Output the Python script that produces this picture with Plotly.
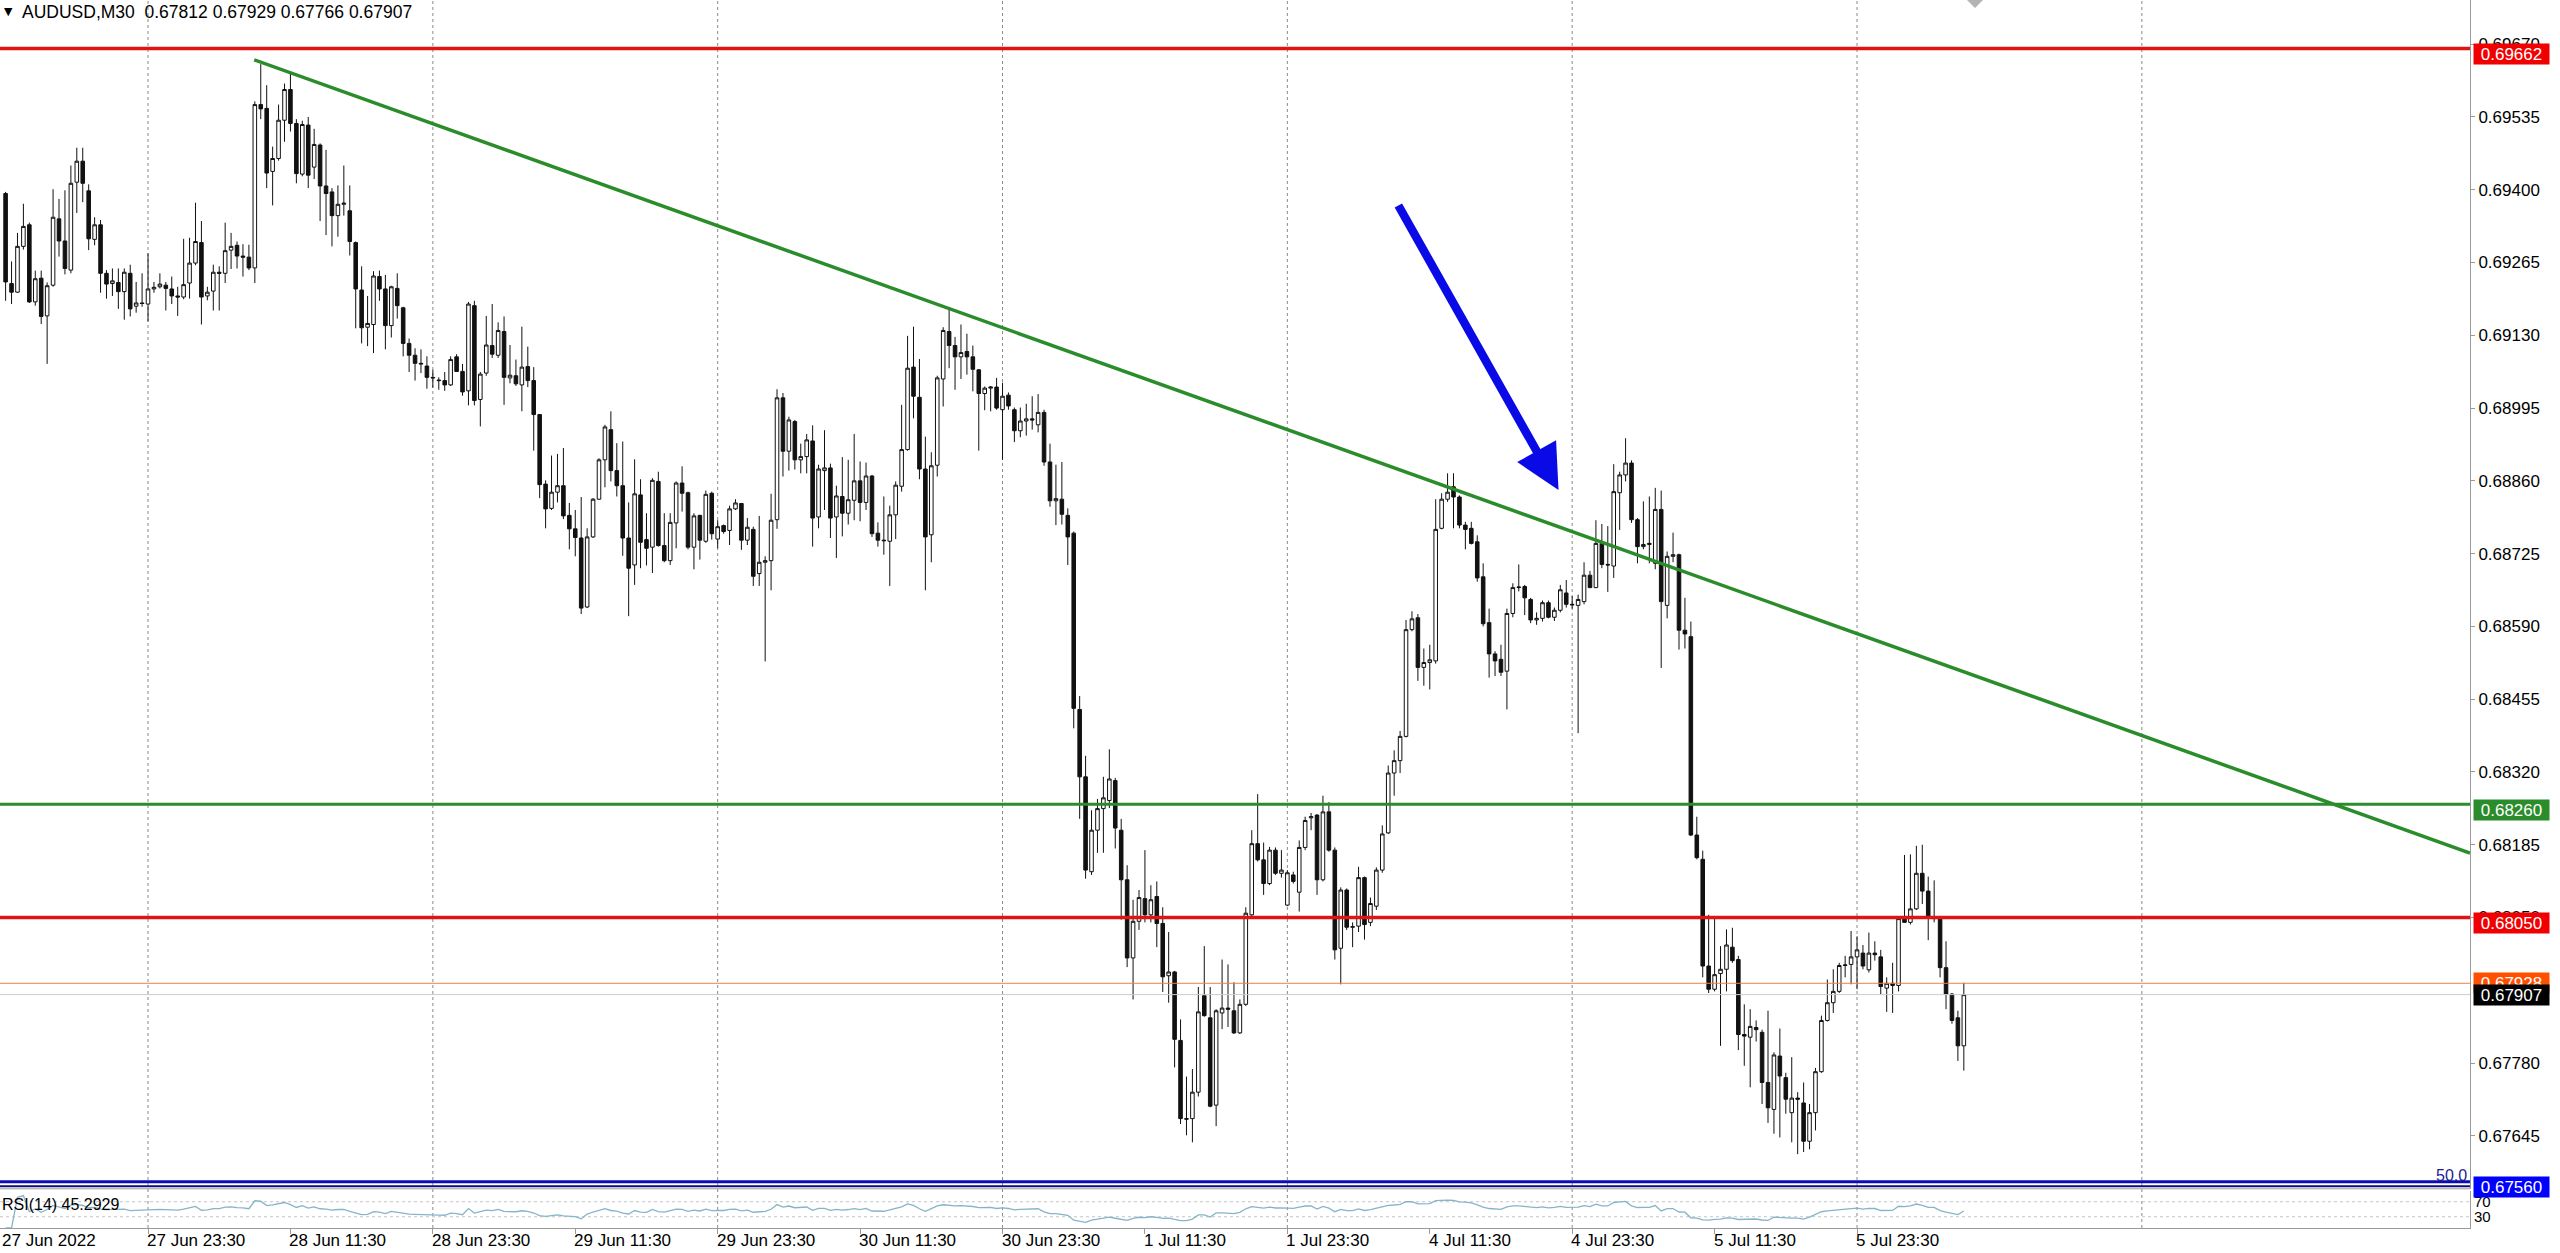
import numpy as np
import plotly.graph_objects as go

# AUDUSD M30 candles, prices in points (1 point = 0.00001)
opens = [
    69393, 69226, 69210, 69295, 69335, 69192, 69236, 69166, 69223, 69346,
    69305, 69251, 69414, 69453, 69398, 69308, 69335, 69245, 69226, 69228,
    69211, 69245, 69184, 69190, 69188, 69216, 69220, 69223, 69216, 69203,
    69201, 69227, 69264, 69302, 69203, 69212, 69247, 69245, 69288, 69297,
    69277, 69275, 69255, 69558, 69551, 69434, 69458, 69529, 69586, 69523,
    69429, 69520, 69442, 69483, 69407, 69396, 69352, 69373, 69361, 69302,
    69214, 69145, 69150, 69239, 69216, 69148, 69217, 69181, 69115, 69093,
    69078, 69073, 69052, 69047, 69046, 69038, 69090, 69063, 69027, 69185,
    69011, 69060, 69111, 69093, 69137, 69051, 69055, 69038, 69072, 69046,
    68983, 68854, 68809, 68839, 68851, 68796, 68771, 68754, 68626, 68756,
    68826, 68899, 68955, 68879, 68851, 68754, 68704, 68834, 68751, 68737,
    68859, 68740, 68712, 68782, 68856, 68838, 68737, 68796, 68748, 68837,
    68752, 68777, 68768, 68808, 68818, 68750, 68770, 68688, 68709, 68712,
    68788, 69014, 68915, 68970, 68899, 68905, 68934, 68793, 68879, 68884,
    68793, 68831, 68800, 68824, 68860, 68820, 68869, 68763, 68750, 68748,
    68797, 68850, 68918, 69071, 69015, 68882, 68760, 68889, 69049, 69137,
    69111, 69090, 69100, 69090, 69066, 69022, 69032, 69034, 68992, 69019,
    68992, 68953, 68971, 68975, 68964, 68987, 68895, 68823, 68826, 68796,
    68763, 68436, 68311, 68135, 68212, 68252, 68267, 68304, 68212, 68120,
    67975, 68043, 68085, 68055, 68089, 68039, 67942, 67949, 67822, 67677,
    67677, 67726, 67905, 67864, 67702, 67873, 67882, 67877, 67836, 67889,
    68055, 68187, 68157, 68113, 68175, 68132, 68073, 68129, 68097, 68180,
    68235, 68240, 68120, 68246, 68175, 67993, 68101, 68032, 68034, 68124,
    68041, 68071, 68138, 68207, 68318, 68341, 68386, 68584, 68606, 68514,
    68523, 68526, 68772, 68826, 68849, 68830, 68778, 68772, 68747, 68682,
    68597, 68539, 68529, 68507, 68614, 68662, 68664, 68640, 68602, 68605,
    68634, 68607, 68620, 68652, 68631, 68629, 68636, 68685, 68662, 68744,
    68705, 68702, 68838, 68871, 68893, 68788, 68738, 68742, 68707, 68807,
    68629, 68720, 68723, 68583, 68571, 68203, 68158, 67960, 67917, 67946,
    67954, 67995, 67972, 67833, 67828, 67846, 67837, 67744, 67694, 67793,
    67753, 67688, 67715, 67706, 67635, 67688, 67764, 67859, 67892, 67913,
    67961, 67963, 67977, 67984, 67953, 67984, 67977, 67919, 67928, 67924,
    68048, 68041, 68066, 68132, 68099, 68050, 68048, 67957, 67908, 67864,
    67812,
]
highs = [
    69396, 69267, 69320, 69374, 69339, 69250, 69250, 69228, 69401, 69383,
    69399, 69445, 69478, 69478, 69410, 69349, 69344, 69251, 69254, 69254,
    69254, 69261, 69229, 69245, 69282, 69229, 69245, 69229, 69239, 69220,
    69309, 69311, 69376, 69342, 69220, 69261, 69258, 69339, 69320, 69304,
    69299, 69298, 69564, 69633, 69594, 69480, 69558, 69597, 69616, 69531,
    69528, 69535, 69513, 69486, 69474, 69403, 69408, 69445, 69408, 69304,
    69258, 69203, 69249, 69250, 69242, 69222, 69245, 69183, 69124, 69106,
    69104, 69091, 69066, 69052, 69062, 69091, 69095, 69077, 69192, 69194,
    69062, 69166, 69188, 69154, 69165, 69112, 69085, 69146, 69109, 69071,
    68984, 68861, 68907, 68910, 68921, 68819, 68806, 68830, 68772, 68828,
    68902, 68964, 68989, 68930, 68933, 68820, 68900, 68863, 68800, 68865,
    68877, 68800, 68800, 68859, 68887, 68840, 68800, 68797, 68842, 68840,
    68787, 68779, 68814, 68826, 68819, 68791, 68775, 68795, 68720, 68836,
    69030, 69023, 68979, 68973, 68929, 68947, 68963, 68890, 68954, 68892,
    68851, 68904, 68899, 68947, 68896, 68894, 68871, 68783, 68831, 68814,
    68859, 69001, 69129, 69146, 69086, 68942, 68913, 69055, 69145, 69180,
    69127, 69150, 69133, 69111, 69067, 69035, 69036, 69051, 69042, 69024,
    68996, 68996, 69003, 69017, 69021, 68992, 68929, 68890, 68895, 68809,
    68766, 68461, 68350, 68249, 68270, 68311, 68362, 68309, 68233, 68147,
    68083, 68101, 68175, 68110, 68117, 68069, 68023, 67951, 67861, 67755,
    67769, 67921, 67997, 67921, 67880, 67972, 67963, 67930, 67898, 68069,
    68212, 68279, 68189, 68181, 68180, 68175, 68138, 68135, 68193, 68237,
    68244, 68242, 68276, 68264, 68180, 68106, 68104, 68041, 68144, 68126,
    68087, 68143, 68221, 68332, 68360, 68396, 68602, 68618, 68613, 68549,
    68556, 68826, 68837, 68874, 68874, 68833, 68784, 68784, 68759, 68707,
    68623, 68544, 68556, 68623, 68670, 68705, 68667, 68643, 68616, 68638,
    68638, 68625, 68667, 68676, 68646, 68649, 68709, 68693, 68787, 68780,
    68776, 68891, 68877, 68939, 68898, 68791, 68822, 68831, 68847, 68842,
    68729, 68764, 68725, 68643, 68599, 68237, 68174, 68055, 68050, 67997,
    68028, 68031, 67979, 67889, 67880, 67859, 67842, 67877, 67800, 67844,
    67762, 67791, 67726, 67744, 67704, 67771, 67868, 67935, 67954, 67966,
    67979, 68025, 68015, 67999, 68022, 68006, 67990, 67939, 67966, 68050,
    68166, 68167, 68183, 68185, 68126, 68119, 68050, 68006, 67910, 67877,
    67929,
]
lows = [
    69194, 69188, 69209, 69289, 69190, 69185, 69151, 69077, 69220, 69276,
    69243, 69245, 69357, 69377, 69288, 69297, 69209, 69198, 69203, 69179,
    69159, 69165, 69172, 69183, 69156, 69209, 69217, 69176, 69188, 69166,
    69197, 69198, 69260, 69150, 69195, 69176, 69176, 69227, 69253, 69254,
    69239, 69251, 69227, 69531, 69403, 69371, 69454, 69489, 69508, 69412,
    69425, 69403, 69420, 69342, 69316, 69295, 69313, 69352, 69278, 69143,
    69115, 69110, 69097, 69194, 69104, 69126, 69161, 69091, 69062, 69046,
    69060, 69031, 69033, 69029, 69027, 69036, 69062, 69018, 69000, 69000,
    68961, 69055, 69088, 69088, 69001, 69041, 69036, 68989, 69034, 68916,
    68828, 68772, 68806, 68820, 68789, 68733, 68720, 68613, 68624, 68754,
    68825, 68848, 68859, 68831, 68721, 68609, 68667, 68698, 68703, 68689,
    68738, 68709, 68704, 68735, 68803, 68733, 68696, 68714, 68745, 68751,
    68735, 68762, 68741, 68806, 68732, 68741, 68665, 68665, 68525, 68657,
    68771, 68868, 68879, 68881, 68874, 68874, 68738, 68772, 68806, 68754,
    68717, 68757, 68779, 68787, 68785, 68806, 68756, 68738, 68723, 68665,
    68752, 68840, 68916, 68976, 68863, 68657, 68709, 68868, 68998, 69069,
    69029, 69049, 69057, 69026, 68916, 68991, 68989, 68992, 68899, 68992,
    68932, 68941, 68944, 68955, 68950, 68888, 68812, 68778, 68779, 68704,
    68401, 68233, 68122, 68129, 68170, 68170, 68253, 68178, 68046, 67958,
    67898, 68027, 68041, 68041, 67995, 67912, 67892, 67772, 67667, 67646,
    67633, 67718, 67866, 67698, 67663, 67843, 67847, 67834, 67834, 67886,
    68049, 68154, 68092, 68110, 68129, 68124, 68071, 68113, 68061, 68175,
    68212, 68092, 68117, 68172, 67972, 67926, 68027, 67995, 68023, 68009,
    68034, 68064, 68133, 68205, 68276, 68318, 68384, 68581, 68489, 68480,
    68473, 68521, 68770, 68821, 68772, 68772, 68733, 68742, 68673, 68590,
    68495, 68498, 68498, 68436, 68607, 68655, 68611, 68596, 68593, 68599,
    68605, 68600, 68616, 68625, 68623, 68392, 68631, 68661, 68661, 68698,
    68654, 68680, 68769, 68859, 68782, 68707, 68733, 68707, 68696, 68513,
    68605, 68709, 68547, 68549, 68201, 68158, 67939, 67910, 67913, 67812,
    67913, 67966, 67804, 67775, 67735, 67820, 67704, 67669, 67649, 67642,
    67686, 67633, 67611, 67615, 67620, 67655, 67762, 67857, 67873, 67910,
    67939, 67926, 67917, 67954, 67948, 67970, 67908, 67875, 67873, 67913,
    68040, 68037, 68064, 68075, 68008, 68041, 67939, 67880, 67853, 67784,
    67766,
]
closes = [
    69229, 69210, 69295, 69332, 69192, 69235, 69165, 69222, 69349, 69305,
    69254, 69412, 69453, 69412, 69309, 69335, 69245, 69225, 69231, 69211,
    69247, 69179, 69190, 69189, 69216, 69219, 69225, 69217, 69203, 69201,
    69224, 69264, 69304, 69201, 69210, 69247, 69245, 69287, 69295, 69277,
    69275, 69255, 69558, 69550, 69431, 69458, 69529, 69586, 69523, 69430,
    69521, 69427, 69484, 69407, 69393, 69352, 69373, 69375, 69304, 69216,
    69144, 69152, 69240, 69216, 69148, 69220, 69185, 69115, 69093, 69078,
    69077, 69052, 69051, 69046, 69038, 69085, 69063, 69025, 69188, 69009,
    69058, 69112, 69095, 69139, 69052, 69056, 69040, 69071, 69046, 68983,
    68853, 68808, 68839, 68851, 68795, 68771, 68755, 68624, 68756, 68826,
    68899, 68960, 68879, 68851, 68754, 68698, 68836, 68746, 68735, 68861,
    68740, 68712, 68783, 68856, 68837, 68737, 68795, 68750, 68835, 68762,
    68775, 68766, 68808, 68819, 68750, 68774, 68683, 68709, 68712, 68787,
    69014, 68915, 68973, 68899, 68905, 68936, 68791, 68882, 68884, 68791,
    68832, 68800, 68825, 68860, 68820, 68869, 68762, 68750, 68749, 68797,
    68852, 68918, 69069, 69017, 68882, 68756, 68888, 69051, 69139, 69111,
    69090, 69098, 69090, 69067, 69022, 69032, 69034, 68995, 69017, 68999,
    68953, 68971, 68975, 68973, 68987, 68895, 68823, 68827, 68798, 68756,
    68438, 68311, 68138, 68212, 68252, 68272, 68307, 68216, 68120, 67975,
    68043, 68087, 68055, 68083, 68039, 67940, 67949, 67824, 67677, 67676,
    67726, 67875, 67868, 67700, 67877, 67882, 67880, 67836, 67889, 68058,
    68187, 68157, 68113, 68175, 68132, 68138, 68133, 68117, 68180, 68230,
    68237, 68120, 68246, 68175, 67990, 68101, 68032, 68033, 68124, 68037,
    68076, 68138, 68205, 68318, 68341, 68386, 68584, 68604, 68514, 68523,
    68528, 68770, 68826, 68839, 68830, 68778, 68770, 68744, 68680, 68595,
    68539, 68526, 68505, 68614, 68662, 68663, 68643, 68602, 68605, 68634,
    68607, 68620, 68658, 68631, 68630, 68640, 68685, 68662, 68744, 68705,
    68704, 68840, 68871, 68893, 68788, 68738, 68742, 68744, 68807, 68636,
    68720, 68723, 68583, 68576, 68203, 68161, 67960, 67917, 67944, 67954,
    67999, 67970, 67833, 67830, 67848, 67842, 67744, 67697, 67795, 67756,
    67713, 67715, 67713, 67635, 67688, 67764, 67859, 67892, 67913, 67961,
    67962, 67977, 67990, 67960, 67984, 67981, 67922, 67928, 67924, 68048,
    68041, 68066, 68132, 68099, 68050, 68048, 67957, 67908, 67859, 67812,
    67907,
]

# time axis (bar index of each label)
time_idx = [24, 48, 72, 96, 120, 144, 168, 192, 216, 240, 264, 288, 312]
time_text = ["27 Jun 23:30", "28 Jun 11:30", "28 Jun 23:30", "29 Jun 11:30",
             "29 Jun 23:30", "30 Jun 11:30", "30 Jun 23:30", "1 Jul 11:30",
             "1 Jul 23:30", "4 Jul 11:30", "4 Jul 23:30", "5 Jul 11:30",
             "5 Jul 23:30"]
grid_idx = [24, 72, 120, 168, 216, 264, 312, 360]

# price scale ticks (0.67915 sits under the bid/ask tags, so it is left out)
price_ticks = [0.67645, 0.67780, 0.68050, 0.68185, 0.68320, 0.68455, 0.68590,
               0.68725, 0.68860, 0.68995, 0.69130, 0.69265, 0.69400, 0.69535, 0.69670]

# horizontal levels drawn on the chart
resist_hi = 0.69662
support_green = 0.68260
resist_lo = 0.68050
support_blue = 0.67560
ask_price = 0.67928
bid_price = 0.67907

# trend line anchors (bar index, price)
trend_a = (41.9, 0.69641)
trend_b = (216.0, 0.68955)

# plot geometry (pixels)
PLOT_W, PLOT_H = 2470, 1228
X0, X1 = -0.944, 415.3
Y_LO, Y_HI = 0.675464, 0.69752


def px_x(x):
    return x / PLOT_W


def px_y(y):
    return (PLOT_H - y) / PLOT_H


bars = list(range(len(closes)))
o = np.array(opens) / 1e5
h = np.array(highs) / 1e5
l = np.array(lows) / 1e5
c = np.array(closes) / 1e5


def rsi(values, n=14):
    d = np.diff(values)
    up = np.clip(d, 0, None)
    dn = np.clip(-d, 0, None)
    out = np.full(len(values), np.nan)
    au = ad = 0.0
    for k in range(1, len(values)):
        if k <= n:
            au = up[:k].mean()
            ad = dn[:k].mean()
        else:
            au = (au * (n - 1) + up[k - 1]) / n
            ad = (ad * (n - 1) + dn[k - 1]) / n
        out[k] = 100.0 if ad == 0 else 100 - 100 / (1 + au / ad)
    out[0] = out[1]
    return out


rsi_vals = rsi(c)

fig = go.Figure()
fig.add_trace(go.Candlestick(
    x=bars, open=o, high=h, low=l, close=c,
    increasing=dict(line=dict(color="#111111", width=1), fillcolor="white"),
    decreasing=dict(line=dict(color="#111111", width=1), fillcolor="#111111"),
    whiskerwidth=0, hoverinfo="skip", xaxis="x", yaxis="y",
))
fig.add_trace(go.Scatter(
    x=bars, y=rsi_vals, mode="lines",
    line=dict(color="#86b4c8", width=1.3), hoverinfo="skip",
    xaxis="x", yaxis="y2",
))

shapes = []
for g in grid_idx:
    shapes.append(dict(type="line", xref="x", yref="paper", x0=g, x1=g, y0=0, y1=1,
                       line=dict(color="#8a8a8a", width=1, dash="dot"), layer="below"))
for lvl in (70, 30):
    shapes.append(dict(type="line", xref="paper", yref="y2", x0=0, x1=1, y0=lvl, y1=lvl,
                       line=dict(color="#c4c4c4", width=1, dash="dot"), layer="below"))

hlines = [
    (resist_hi, "#e01414", 3.5),
    (support_green, "#2a8c2a", 3),
    (resist_lo, "#e01414", 3.5),
    (ask_price, "#ee8050", 1),
    (bid_price, "#cccccc", 1),
    (support_blue, "#0c0cb4", 3),
]
for price, col, w in hlines:
    shapes.append(dict(type="line", xref="paper", yref="y", x0=0, x1=1, y0=price, y1=price,
                       line=dict(color=col, width=w), layer="above"))

# trend line extended to the right edge
slope = (trend_b[1] - trend_a[1]) / (trend_b[0] - trend_a[0])
shapes.append(dict(type="line", xref="x", yref="y",
                   x0=trend_a[0], y0=trend_a[1], x1=X1, y1=trend_a[1] + slope * (X1 - trend_a[0]),
                   line=dict(color="#2a8c2a", width=3.5), layer="above"))

# window separator under the main chart
shapes.append(dict(type="line", xref="paper", yref="paper", x0=0, x1=1,
                   y0=px_y(1186.3), y1=px_y(1186.3), line=dict(color="#0c0c7a", width=2)))
shapes.append(dict(type="line", xref="paper", yref="paper", x0=0, x1=1,
                   y0=px_y(1188.8), y1=px_y(1188.8), line=dict(color="#9a9a9a", width=1)))

# shift marker at the top
shapes.append(dict(type="path", xref="paper", yref="paper",
                   path=f"M{px_x(1967)},{px_y(0)} L{px_x(1983)},{px_y(0)} L{px_x(1975)},{px_y(8)} Z",
                   fillcolor="#b4b4b4", line=dict(width=0)))

FONT = "Liberation Sans, Arial, sans-serif"
ann = []
ann.append(dict(xref="paper", yref="paper", x=px_x(2), y=px_y(11), xanchor="left", yanchor="middle",
                text="▼", showarrow=False, font=dict(family="DejaVu Sans", size=11, color="black")))
ann.append(dict(xref="paper", yref="paper", x=px_x(20), y=px_y(12.5), xanchor="left", yanchor="middle",
                text="AUDUSD,M30\u00a0 0.67812 0.67929 0.67766 0.67907", showarrow=False,
                font=dict(family=FONT, size=17.5, color="black")))
ann.append(dict(xref="paper", yref="paper", x=0, y=px_y(1204), xanchor="left", yanchor="middle",
                text="RSI(14) 45.2929", showarrow=False, font=dict(family=FONT, size=16, color="black")))
ann.append(dict(xref="paper", yref="paper", x=px_x(2469), y=px_y(1175), xanchor="right", yanchor="middle",
                text="50.0", showarrow=False, font=dict(family=FONT, size=16, color="#1c1c8c")))

# time labels
ann.append(dict(xref="paper", yref="paper", x=0, y=px_y(1240), xanchor="left", yanchor="middle",
                text="27 Jun 2022", showarrow=False, font=dict(family=FONT, size=17, color="black")))
for idx, txt in zip(time_idx, time_text):
    ann.append(dict(xref="x", yref="paper", x=idx, xshift=-3, y=px_y(1240), xanchor="left",
                    yanchor="middle", text=txt, showarrow=False,
                    font=dict(family=FONT, size=17, color="black")))

# price tags on the right scale
tags = [
    (resist_hi, "0.69662", "#f00000", -5.5),
    (support_green, "0.68260", "#2a8c2a", -5.5),
    (resist_lo, "0.68050", "#f00000", -5.5),
    (ask_price, "0.67928", "#ff5000", 0),
    (bid_price, "0.67907", "#000000", 0),
    (support_blue, "0.67560", "#0000ff", -5.5),
]
for price, txt, bg, shift in tags:
    ann.append(dict(xref="paper", yref="y", x=px_x(2473), y=price, yshift=shift,
                    xanchor="left", yanchor="middle", text=txt, showarrow=False,
                    bgcolor=bg, width=75, height=20, borderpad=0, align="center",
                    font=dict(family=FONT, size=17, color="white")))

# blue arrow pointing at the trend line touch
ann.append(dict(xref="x", yref="y", x=261.7, y=0.68843, ax=-161, ay=-286, text="",
                showarrow=True, arrowhead=2, arrowsize=1.05, arrowwidth=8.5,
                arrowcolor="#0a0ae6", standoff=0))

fig.update_layout(
    width=2560, height=1253,
    margin=dict(l=0, r=90, t=0, b=25, pad=0, autoexpand=False),
    paper_bgcolor="white", plot_bgcolor="white",
    showlegend=False, boxgap=0.4, boxgroupgap=0,
    font=dict(family=FONT, size=17, color="black"),
    shapes=shapes, annotations=ann,
    xaxis=dict(range=[X0, X1], anchor="y2", showgrid=False, zeroline=False,
               showline=True, linecolor="#9a9a9a", tickvals=time_idx, ticks="outside",
               ticklen=5, tickcolor="#9a9a9a", showticklabels=False, automargin=False,
               rangeslider=dict(visible=False), fixedrange=True),
    yaxis=dict(domain=[px_y(1189), 1], range=[Y_LO, Y_HI], side="right",
               tickvals=price_ticks, tickformat=".5f", ticks="outside",
               ticklen=4, tickcolor="#9a9a9a", showline=True, linecolor="#9a9a9a",
               showgrid=False, zeroline=False, tickfont=dict(family=FONT, size=17),
               automargin=False, fixedrange=True),
    yaxis2=dict(domain=[0, px_y(1190.5)], range=[0, 100], side="right",
                tickvals=[70, 30], ticktext=["70", "30"], ticks="", showline=True,
                linecolor="#9a9a9a", showgrid=False, zeroline=False,
                tickfont=dict(family=FONT, size=15), automargin=False, fixedrange=True),
)

# the page body has a default 8px margin; drop it so the chart sits at the window corner
fig.write_html("out.html", config={"displayModeBar": False},
               post_script="document.body.style.margin='0';document.body.style.overflow='hidden';")
